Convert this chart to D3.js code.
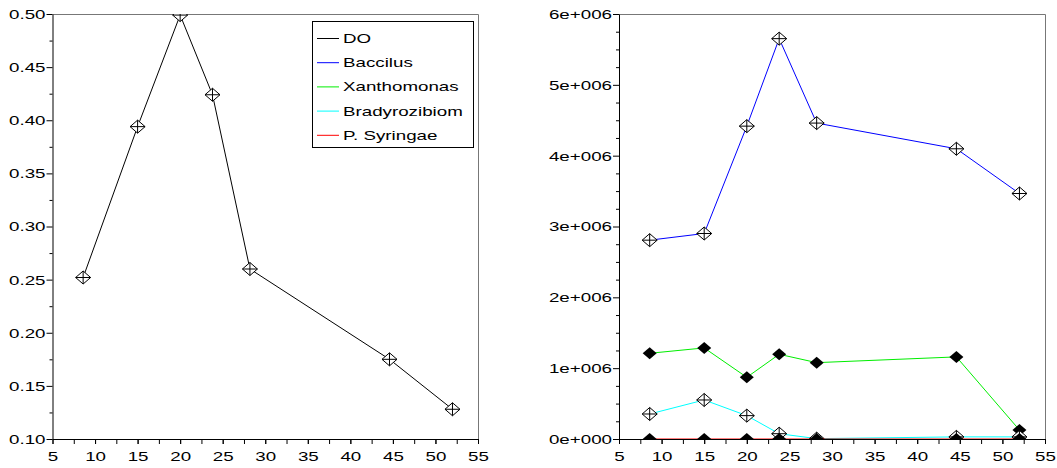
<!DOCTYPE html>
<html>
<head>
<meta charset="UTF-8">
<title>DO and bacteria</title>
<script src="https://d3js.org/d3.v7.min.js"></script>
<style>
  body { margin: 0; background: #fff; }
  svg { display: block; }
  text { font-family: "Liberation Sans", Arial, sans-serif; fill: #000; }
</style>
</head>
<body>
<div id="chart"></div>
<script>
// sample positions (same for every series)
const xVals = [8.6, 15, 20, 23.8, 28.2, 44.6, 52];

// left panel
const doVals = [0.252, 0.394, 0.499, 0.424, 0.260, 0.175, 0.128];

// right panel
const baccilus = [2.807e6, 2.901e6, 4.417e6, 5.652e6, 4.460e6, 4.097e6, 3.466e6];
const xanthomonas = [1.210e6, 1.286e6, 0.871e6, 1.196e6, 1.078e6, 1.159e6, 0.127e6];
const bradyrozibiom = [0.353e6, 0.551e6, 0.330e6, 0.075e6, 0.005e6, 0.030e6, 0.030e6];
const pSyringae = [0, 0, 0, 0, 0, 0, 0];

const legendNames = ["DO", "Baccilus", "Xanthomonas", "Bradyrozibiom", "P. Syringae"];
const legendColors = ["#000000", "#0000ff", "#00ee00", "#00ffff", "#ff0000"];

const W = 1057, H = 468;
const STRETCH = 1.5; // tick/legend text is drawn wide in the original

const svg = d3.select("#chart").append("svg")
  .attr("width", W).attr("height", H);

const openDiamond = "M0,-6.5L7.5,0L0,6.5L-7.5,0Z";
const plus = "M-7.5,0H7.5M0,-6.5V6.5";
const filledDiamond = "M0,-6L7,0L0,6L-7,0Z";

function panel(id, xr, yDomain, yMajor, yMinor, fmt) {
  const x = d3.scaleLinear().domain([5, 55]).range(xr);
  const y = d3.scaleLinear().domain(yDomain).range([439, 14]);
  const g = svg.append("g");

  g.append("clipPath").attr("id", id)
    .append("rect")
    .attr("x", xr[0]).attr("y", 14)
    .attr("width", xr[1] - xr[0]).attr("height", 425);

  // gray top and right frame
  g.append("path")
    .attr("d", `M${xr[0]},14.5H${xr[1] + 0.5}V439`)
    .attr("fill", "none").attr("stroke", "#777");

  // minor ticks
  g.append("g")
    .attr("transform", `translate(0,439)`)
    .call(d3.axisBottom(x).tickValues(d3.range(5, 55.1, 2.5)).tickSize(5).tickFormat("").tickSizeOuter(0))
    .call(a => a.select(".domain").remove());
  g.append("g")
    .attr("transform", `translate(${xr[0]},0)`)
    .call(d3.axisLeft(y).tickValues(yMinor).tickSize(3).tickFormat("").tickSizeOuter(0))
    .call(a => a.select(".domain").remove());

  // major axes
  const xa = g.append("g")
    .attr("transform", `translate(0,439)`)
    .call(d3.axisBottom(x).tickValues(d3.range(5, 56, 5)).tickSize(5).tickSizeOuter(0));
  xa.selectAll("text")
    .attr("y", null).attr("dy", null)
    .attr("transform", `translate(0,22) scale(${STRETCH},1)`)
    .attr("font-size", 12.5);

  const ya = g.append("g")
    .attr("transform", `translate(${xr[0]},0)`)
    .call(d3.axisLeft(y).tickValues(yMajor).tickFormat(fmt).tickSize(6).tickSizeOuter(0));
  ya.selectAll("text")
    .attr("x", null).attr("dy", null)
    .attr("transform", `translate(-7,4.4) scale(${STRETCH},1)`)
    .attr("font-size", 12.5);
  [xa, ya].forEach(a => a.attr("font-family", null).attr("font-size", null));

  const plot = g.append("g").attr("clip-path", `url(#${id})`);
  return { x, y, plot };
}

function series(p, vals, color, filled) {
  const pts = xVals.map((d, i) => [d, vals[i]]);
  p.plot.append("path")
    .datum(pts)
    .attr("fill", "none")
    .attr("stroke", color)
    .attr("stroke-width", 1)
    .attr("d", d3.line().x(d => p.x(d[0])).y(d => p.y(d[1])));
  const m = p.plot.append("g").selectAll("g")
    .data(pts).join("g")
    .attr("transform", d => `translate(${p.x(d[0])},${p.y(d[1])})`);
  if (filled) {
    m.append("path").attr("d", filledDiamond).attr("fill", "#000");
  } else {
    m.append("path").attr("d", openDiamond)
      .attr("fill", "#fff").attr("stroke", "#000").attr("stroke-width", 1);
    m.append("path").attr("d", plus).attr("fill", "none")
      .attr("stroke", "#000").attr("stroke-width", 1);
  }
}

// ---- left panel: DO
const left = panel("clipL", [52.5, 478], [0.1, 0.5],
  d3.range(0.1, 0.5001, 0.05), d3.range(0.125, 0.5, 0.05), d3.format(".2f"));
series(left, doVals, legendColors[0], false);

// ---- right panel: bacteria
const right = panel("clipR", [619, 1045], [0, 6e6],
  d3.range(0, 6e6 + 1, 1e6), d3.range(0, 6e6, 2.5e5).filter(v => v % 1e6 !== 0),
  v => (v / 1e6).toFixed(0) + "e+" + (v === 0 ? "000" : "006"));
series(right, baccilus, legendColors[1], false);
series(right, xanthomonas, legendColors[2], true);
series(right, bradyrozibiom, legendColors[3], false);
series(right, pSyringae, legendColors[4], true);

// ---- legend (left panel)
const lg = svg.append("g");
lg.append("rect")
  .attr("x", 312.5).attr("y", 21.5).attr("width", 161).attr("height", 126)
  .attr("fill", "#fff").attr("stroke", "#000");
const rows = lg.selectAll("g.row").data(legendNames).join("g")
  .attr("class", "row")
  .attr("transform", (d, i) => `translate(0,${38.5 + i * 24.2})`);
rows.append("line")
  .attr("x1", 317).attr("x2", 339)
  .attr("stroke", (d, i) => legendColors[i]);
rows.append("text")
  .attr("transform", `translate(343,4.5) scale(${STRETCH},1)`)
  .attr("font-size", 12.5)
  .text(d => d);
</script>
</body>
</html>
